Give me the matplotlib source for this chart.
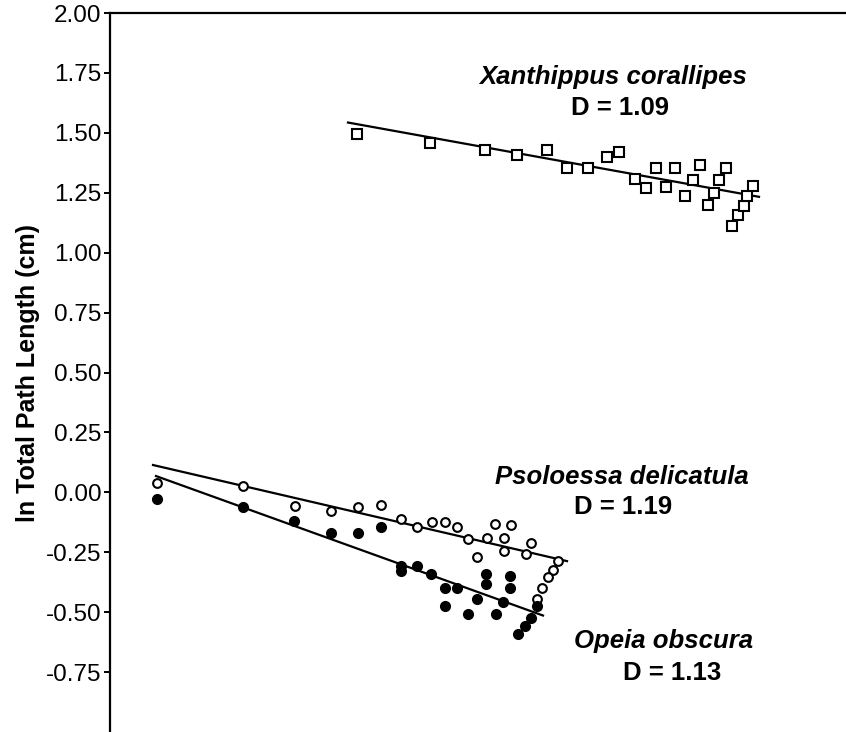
import matplotlib
matplotlib.use('Agg')
import matplotlib.pyplot as plt

plt.rcParams['font.family'] = ['Liberation Sans', 'DejaVu Sans']

# Xanthippus corallipes (open squares)
xan_x = [2.47, 3.20, 3.75, 4.07, 4.37, 4.57, 4.78, 4.97, 5.09, 5.25, 5.36, 5.46, 5.56,
         5.65, 5.75, 5.83, 5.90, 5.98, 6.04, 6.09, 6.16, 6.22, 6.28, 6.34, 6.37, 6.43]
xan_y = [1.497, 1.459, 1.429, 1.406, 1.430, 1.355, 1.354, 1.401, 1.422, 1.309, 1.268, 1.355, 1.276,
         1.353, 1.238, 1.303, 1.366, 1.199, 1.251, 1.305, 1.355, 1.111, 1.156, 1.196, 1.237, 1.280]
xan_fit_x = [2.38, 6.49]
xan_fit_y = [1.543, 1.233]

# Psoloessa delicatula (open circles)
pso_x = [0.47, 1.33, 1.85, 2.21, 2.48, 2.71, 2.91, 3.07, 3.22, 3.35, 3.47, 3.58, 3.67,
         3.77, 3.85, 4.01, 3.94, 3.94, 4.16, 4.21, 4.48, 4.43, 4.38, 4.32, 4.27]
pso_y = [0.040, 0.026, -0.058, -0.078, -0.061, -0.051, -0.111, -0.145, -0.123, -0.124, -0.145, -0.193, -0.271,
         -0.190, -0.134, -0.137, -0.190, -0.243, -0.257, -0.210, -0.285, -0.325, -0.354, -0.399, -0.446]
pso_fit_x = [0.43, 4.57]
pso_fit_y = [0.114, -0.287]

# Opeia obscura (filled circles)
ope_x = [0.47, 1.33, 1.84, 2.21, 2.48, 2.71, 2.91, 2.91, 3.07, 3.21, 3.35, 3.35, 3.47,
         3.58, 3.67, 3.76, 3.76, 3.86, 3.93, 4.00, 4.00, 4.27, 4.21, 4.15, 4.08]
ope_y = [-0.027, -0.062, -0.120, -0.169, -0.169, -0.145, -0.307, -0.328, -0.308, -0.339, -0.399, -0.473, -0.399,
         -0.507, -0.443, -0.340, -0.381, -0.506, -0.458, -0.350, -0.399, -0.475, -0.524, -0.559, -0.591]
ope_fit_x = [0.46, 4.33]
ope_fit_y = [0.068, -0.514]

yticks = [2.00, 1.75, 1.50, 1.25, 1.00, 0.75, 0.50, 0.25, 0.00, -0.25, -0.50, -0.75]

fig = plt.figure(figsize=(8.46, 7.32), dpi=100)
ax = fig.add_axes([110 / 846, 0, 1 - 110 / 846, 1 - 13 / 732])

ax.plot(xan_fit_x, xan_fit_y, color='black', lw=1.6)
ax.plot(pso_fit_x, pso_fit_y, color='black', lw=1.6)
ax.plot(ope_fit_x, ope_fit_y, color='black', lw=1.6)

ax.plot(xan_x, xan_y, 's', ms=6.5, mfc='white', mec='black', mew=1.5, linestyle='none')
ax.plot(pso_x, pso_y, 'o', ms=6.3, mfc='white', mec='black', mew=1.5, linestyle='none')
ax.plot(ope_x, ope_y, 'o', ms=7, mfc='black', mec='black', linestyle='none')

ax.set_xlim(0, 7.36)
ax.set_ylim(-1.0, 2.0)
ax.set_yticks(yticks)
ax.set_yticklabels(['%.2f' % v for v in yticks], fontsize=17.5)
ax.set_xticks([])
ax.tick_params(axis='y', direction='out', length=4, width=1.4, pad=2)

ax.spines['right'].set_visible(False)
ax.spines['bottom'].set_visible(False)
ax.spines['left'].set_linewidth(1.6)
ax.spines['top'].set_linewidth(1.6)

ax.set_ylabel('ln Total Path Length (cm)', fontsize=18, fontweight='bold', labelpad=4)

sty = dict(fontsize=18.5, fontweight='bold', ha='center', va='center')
ax.text(5.03, 1.735, 'Xanthippus corallipes', style='italic', **sty)
ax.text(5.10, 1.605, 'D = 1.09', **sty)
ax.text(5.12, 0.065, 'Psoloessa delicatula', style='italic', **sty)
ax.text(5.13, -0.063, 'D = 1.19', **sty)
ax.text(5.54, -0.62, 'Opeia obscura', style='italic', **sty)
ax.text(5.62, -0.755, 'D = 1.13', **sty)

fig.savefig('out.png', dpi=100)
